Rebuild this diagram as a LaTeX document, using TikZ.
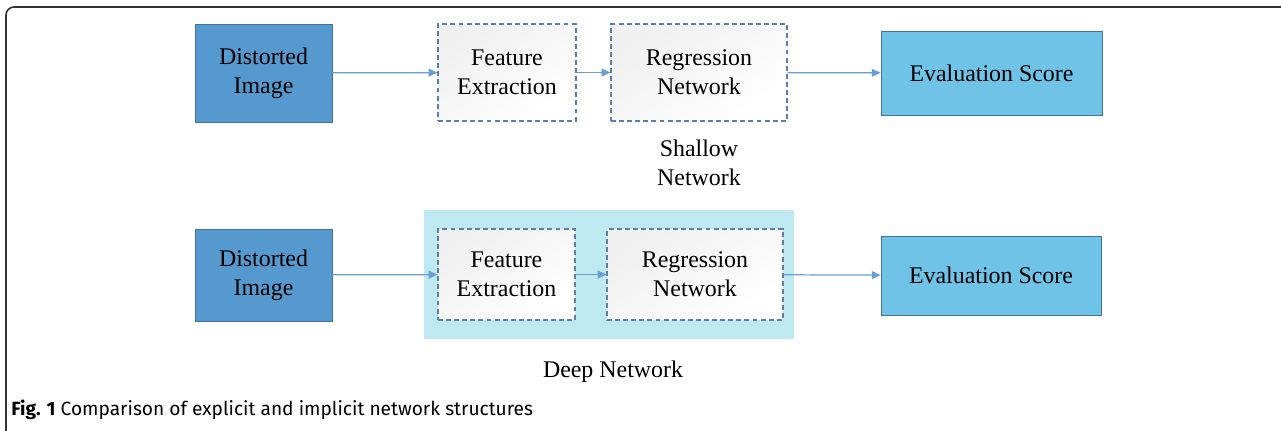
\documentclass[tikz,border=0pt]{standalone}
\usepackage{fontspec}
\setmainfont{Liberation Serif}
\newfontfamily\capfont{Fira Sans}
\usetikzlibrary{arrows.meta}
\definecolor{imgblue}{HTML}{5599CE}
\definecolor{scoreblue}{HTML}{6FC3E7}
\definecolor{edgeblue}{HTML}{41719C}
\definecolor{dashblue}{HTML}{5B7FAA}
\definecolor{arrowblue}{HTML}{6A9FD4}
\definecolor{deepbg}{HTML}{BFE9F1}
\begin{document}
\begin{tikzpicture}[x=0.02cm,y=-0.02cm,
    boxtext/.style={font=\fontsize{13.6}{16.4}\selectfont,align=center,inner sep=0pt},
    solidbox/.style={boxtext,draw=edgeblue,line width=0.5pt},
    dashbox/.style={boxtext,draw=dashblue,line width=0.6pt,dash pattern=on 2.8pt off 1.8pt,
      top color=black!6,bottom color=white,shading angle=35},
    link/.style={arrowblue,line width=0.7pt,-{Triangle[length=5pt,width=4.5pt]}}]
    \useasboundingbox (0,0) rectangle (1281,431);
    % frame on top and left
    \draw[black!80,line width=0.9pt,rounded corners=0.16cm] (6,431) -- (6,7) -- (1281,7);
    % shallow network
    \node[solidbox,fill=imgblue,minimum width=2.74cm,minimum height=1.96cm] (img1) at (263.5,73) {Distorted\\Image};
    \node[dashbox,minimum width=2.76cm,minimum height=1.94cm] (feat1) at (507,72.5) {Feature\\Extraction};
    \node[dashbox,minimum width=3.52cm,minimum height=1.94cm] (reg1) at (699,72.5) {Regression\\Network};
    \node[solidbox,fill=scoreblue,minimum width=4.42cm,minimum height=1.68cm] (score1) at (991.5,73) {Evaluation Score};
    \node[boxtext] (shallow) at (699,163) {Shallow\\Network};
    \draw[link] (img1) -- (feat1);
    \draw[link] (feat1) -- (reg1);
    \draw[link] (reg1) -- (score1);
    % deep network
    \node[fill=deepbg,minimum width=7.4cm,minimum height=2.58cm,inner sep=0pt] (deep) at (609,274.5) {};
    \node[solidbox,fill=imgblue,minimum width=2.74cm,minimum height=1.84cm] (img2) at (263.5,275) {Distorted\\Image};
    \node[dashbox,minimum width=2.74cm,minimum height=1.82cm] (feat2) at (506.5,274.5) {Feature\\Extraction};
    \node[dashbox,minimum width=3.52cm,minimum height=1.82cm] (reg2) at (695,274.5) {Regression\\Network};
    \node[solidbox,fill=scoreblue,minimum width=4.4cm,minimum height=1.58cm] (score2) at (991,275.5) {Evaluation Score};
    \node[boxtext] (deeplabel) at (613,372) {Deep Network};
    \draw[link] (img2) -- (feat2);
    \draw[link] (feat2) -- (reg2);
    \draw[link] (reg2) -- (score2);
    % caption
    \node[anchor=west,inner sep=0pt,font=\capfont\fontsize{10.9}{13}\selectfont] (cap) at (11,410)
      {\textbf{Fig. 1} Comparison of explicit and implicit network structures};
  \end{tikzpicture}
\end{document}
